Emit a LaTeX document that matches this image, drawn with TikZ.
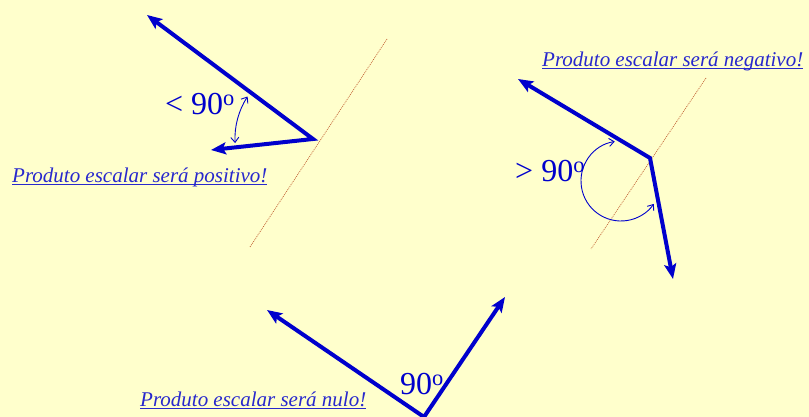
\documentclass[tikz,border=0pt]{standalone}
\usepackage{fontspec}
\setmainfont{Liberation Serif}
\usepackage{xcolor}
\usepackage{tikz}
\usetikzlibrary{arrows.meta}

\definecolor{vecblue}{RGB}{0,0,204}
\definecolor{txtblue}{RGB}{40,40,204}
\definecolor{guidecol}{RGB}{195,100,55}
\definecolor{bgyellow}{RGB}{255,255,204}
\newcommand{\ulnote}[1]{\underline{\smash{#1}}}
\newcommand{\grau}{\textsuperscript{o}}

\begin{document}
\begin{tikzpicture}[
  x=1pt, y=1pt,
  vec/.style={draw=vecblue, line width=4pt, {Stealth[length=15pt,width=12pt,inset=3pt]}-{Stealth[length=15pt,width=12pt,inset=3pt]}},
  ang/.style={draw=vecblue, line width=0.9pt, {Straight Barb[length=5pt,width=8pt]}-{Straight Barb[length=5pt,width=8pt]}},
  guide/.style={draw=guidecol, line width=0.7pt, dash pattern=on 1pt off 1pt},
  note/.style={anchor=base west, inner sep=0pt, text=txtblue, font=\fontsize{21}{24}\selectfont\itshape},
  deg/.style={anchor=base west, inner sep=0pt, text=vecblue, font=\fontsize{32}{36}\selectfont}
]
\useasboundingbox (0,0) rectangle (809,417);
\fill[bgyellow] (0,0) rectangle (809,417);

% acute case
\coordinate (v1) at (313,278);
\coordinate (p1) at (147,402);
\coordinate (q1) at (211,267);
\coordinate (g1a) at (387,378);
\coordinate (g1b) at (250,170);
% obtuse case
\coordinate (v2) at (650,259);
\coordinate (p2) at (518,338);
\coordinate (q2) at (673,138);
\coordinate (c2) at (621,236);
\coordinate (g2a) at (706,339);
\coordinate (g2b) at (591,168);
% right angle
\coordinate (v3) at (424,0);
\coordinate (p3) at (267,107);
\coordinate (q3) at (505,120);

\draw[guide] (g1a) -- (g1b);
\draw[guide] (g2a) -- (g2b);

\draw[vec] (p1) -- (v1) -- (q1);
\draw[vec] (p2) -- (v2) -- (q2);
\draw[vec] (p3) -- (v3) -- (q3);

\draw[ang] (v1) ++(147:78) arc (147:183:78);
\draw[ang] (c2) ++(99:40) arc (99:325:40);

\node[deg] (lt) at (165,302) {< 90\grau};
\node[deg] (gt) at (515,235) {> 90\grau};
\node[deg] (rt) at (400,22) {90\grau};

\node[note] (pos) at (12,234) {\ulnote{Produto escalar será positivo!}};
\node[note] (neg) at (542,350) {\ulnote{Produto escalar será negativo!}};
\node[note] (nul) at (140,10) {\ulnote{Produto escalar será nulo!}};
\end{tikzpicture}
\end{document}
